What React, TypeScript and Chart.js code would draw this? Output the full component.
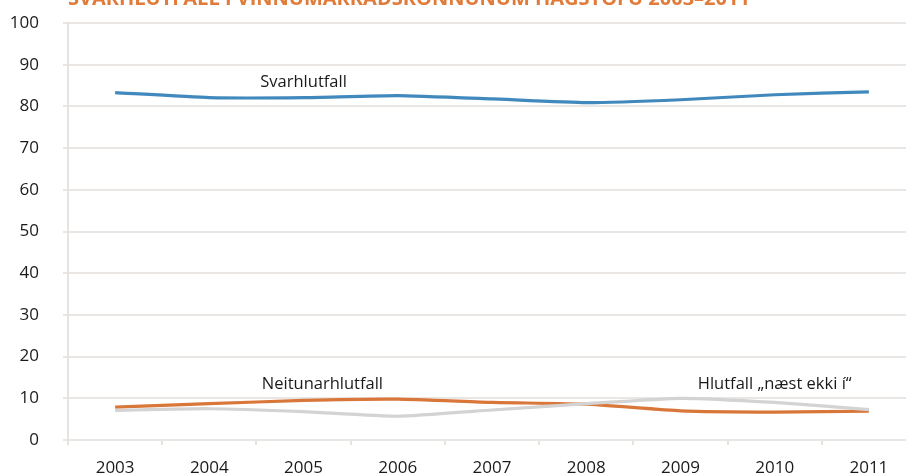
import React, { useEffect, useRef } from "react";
import { Chart, registerables } from "chart.js";

Chart.register(...registerables);

const years = ["2003", "2004", "2005", "2006", "2007", "2008", "2009", "2010", "2011"];
const svarhlutfall = [83.3, 82.1, 82.1, 82.6, 81.8, 80.9, 81.6, 82.8, 83.5];
const neitunarhlutfall = [7.9, 8.7, 9.5, 9.8, 9.0, 8.6, 7.0, 6.7, 6.9];
const naestEkki = [7.1, 7.5, 6.8, 5.7, 7.2, 8.7, 10.0, 9.0, 7.3];

const seriesNames = ["Svarhlutfall", "Neitunarhlutfall", "Hlutfall „næst ekki í“"];
const labelCategory = [2, 2.2, 7];
const labelValue = [85.8, 13.4, 13.4];

const titleText = "SVARHLUTFALL Í VINNUMARKAÐSKÖNNUNUM HAGSTOFU 2003–2011";

const FONT = "'Open Sans', Lato, sans-serif";

const overlayPlugin = {
  id: "overlay",
  afterDraw(chart: any) {
    const ctx = chart.ctx;
    const xs = chart.scales.x;
    const ys = chart.scales.y;
    ctx.save();
    ctx.font = `bold 17px ${FONT}`;
    const w = ctx.measureText(titleText).width;
    const size = 17 * (682 / w);
    ctx.font = `bold ${size}px ${FONT}`;
    ctx.fillStyle = "#e07b39";
    ctx.textAlign = "left";
    ctx.textBaseline = "alphabetic";
    ctx.fillText(titleText, 68, 5);
    ctx.font = `16.5px ${FONT}`;
    ctx.fillStyle = "#1a1a1a";
    ctx.textAlign = "center";
    ctx.textBaseline = "middle";
    for (let i = 0; i < seriesNames.length; i++) {
      const x = xs.getPixelForDecimal((labelCategory[i] + 0.5) / years.length);
      const y = ys.getPixelForValue(labelValue[i]);
      ctx.fillText(seriesNames[i], x, y);
    }
    ctx.restore();
  },
};

export default function App() {
  const ref = useRef<HTMLCanvasElement | null>(null);
  useEffect(() => {
    if (!ref.current) return;
    const common = { borderWidth: 3.2, pointRadius: 0, tension: 0.15 };
    const chart = new Chart(ref.current, {
      type: "line",
      data: {
        labels: years,
        datasets: [
          { label: seriesNames[0], data: svarhlutfall, borderColor: "#4189bd", order: 2, ...common },
          { label: seriesNames[1], data: neitunarhlutfall, borderColor: "#d9773a", order: 1, ...common },
          { label: seriesNames[2], data: naestEkki, borderColor: "#d3d3d3", order: 0, ...common },
        ],
      },
      options: {
        responsive: false,
        animation: false,
        devicePixelRatio: 1,
        layout: { padding: { top: 23, right: 10, left: 0, bottom: 0 } },
        plugins: {
          legend: { display: false },
          tooltip: { enabled: false },
          title: { display: false },
        },
        scales: {
          x: {
            offset: true,
            grid: {
              offset: true,
              drawOnChartArea: false,
              drawTicks: true,
              tickLength: 5,
              color: "#e6e2de",
              lineWidth: 2,
            },
            border: { display: false },
            ticks: {
              color: "#1a1a1a",
              font: { family: FONT, size: 17 },
              padding: 13,
              maxRotation: 0,
            },
            afterFit: (s: any) => {
              s.height = 40;
            },
          },
          y: {
            min: 0,
            max: 100,
            ticks: {
              stepSize: 10,
              color: "#1a1a1a",
              font: { family: FONT, size: 17 },
              padding: 24,
            },
            grid: {
              color: "#e9e6e3",
              lineWidth: 2,
              tickLength: 5,
            },
            border: { display: true, color: "#e6e2de", width: 2 },
            afterFit: (s: any) => {
              s.width = 68;
              s.paddingTop = 0;
            },
          },
        },
      },
      plugins: [overlayPlugin],
    });
    return () => chart.destroy();
  }, []);
  return (
    <div
      style={{
        position: "fixed",
        left: 0,
        top: 0,
        width: 906,
        height: 476,
        overflow: "hidden",
        background: "#fff",
      }}
    >
      <canvas ref={ref} width={926} height={480} style={{ display: "block" }} />
    </div>
  );
}
